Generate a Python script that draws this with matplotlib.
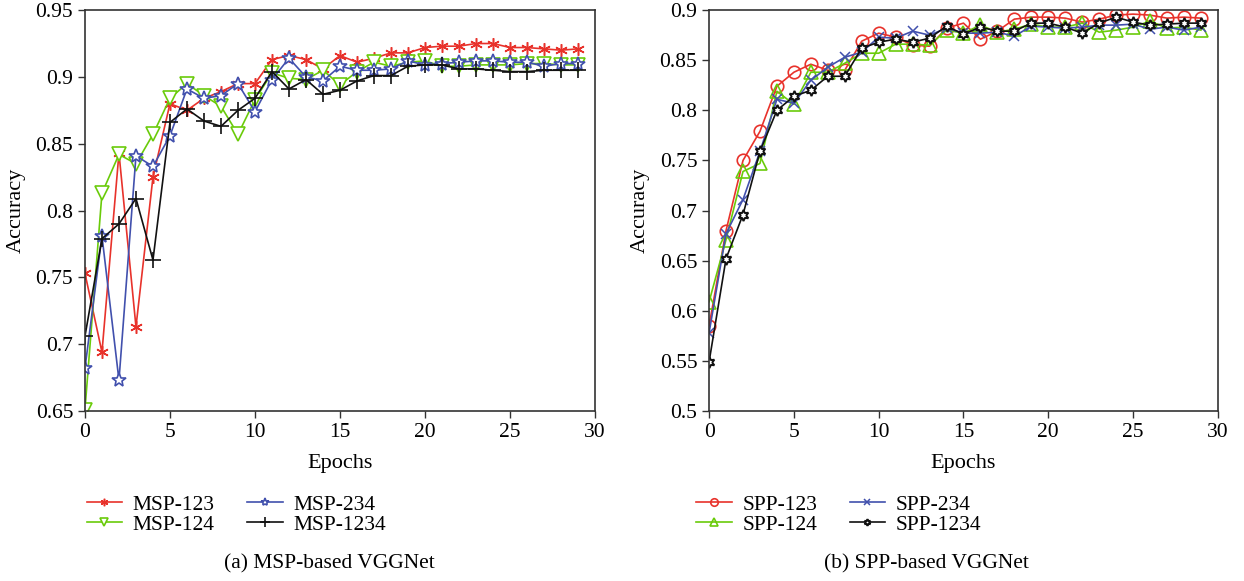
import matplotlib
matplotlib.use("Agg")
import matplotlib.pyplot as plt
import numpy as np

plt.rcParams['font.family'] = ['Liberation Serif', 'DejaVu Serif']

epochs = list(range(30))

# (a) MSP-based VGGNet
msp_123 = [0.753, 0.694, 0.843, 0.713, 0.825, 0.880, 0.875, 0.884, 0.889, 0.895,
           0.895, 0.913, 0.916, 0.913, 0.906, 0.916, 0.911, 0.914, 0.918, 0.918,
           0.922, 0.923, 0.923, 0.925, 0.925, 0.922, 0.922, 0.921, 0.920, 0.921]
msp_124 = [0.651, 0.813, 0.842, 0.835, 0.857, 0.884, 0.895, 0.886, 0.878, 0.857,
           0.883, 0.903, 0.899, 0.898, 0.905, 0.894, 0.904, 0.911, 0.908, 0.911,
           0.912, 0.908, 0.908, 0.909, 0.909, 0.909, 0.910, 0.910, 0.909, 0.909]
msp_234 = [0.682, 0.781, 0.673, 0.841, 0.833, 0.856, 0.891, 0.884, 0.886, 0.895,
           0.874, 0.898, 0.914, 0.900, 0.897, 0.908, 0.905, 0.905, 0.906, 0.912,
           0.909, 0.910, 0.911, 0.912, 0.912, 0.911, 0.911, 0.908, 0.910, 0.910]
msp_1234 = [0.706, 0.779, 0.790, 0.809, 0.763, 0.866, 0.876, 0.867, 0.863, 0.875,
            0.884, 0.904, 0.891, 0.898, 0.887, 0.890, 0.897, 0.901, 0.901, 0.908,
            0.909, 0.909, 0.906, 0.906, 0.905, 0.904, 0.904, 0.905, 0.905, 0.905]

# (b) SPP-based VGGNet
spp_123 = [0.585, 0.680, 0.750, 0.779, 0.824, 0.838, 0.846, 0.840, 0.840, 0.869,
           0.877, 0.873, 0.865, 0.864, 0.882, 0.887, 0.871, 0.879, 0.891, 0.893,
           0.893, 0.892, 0.888, 0.891, 0.895, 0.896, 0.895, 0.892, 0.893, 0.892]
spp_124 = [0.609, 0.671, 0.739, 0.747, 0.819, 0.806, 0.838, 0.838, 0.847, 0.857,
           0.857, 0.866, 0.866, 0.865, 0.880, 0.877, 0.885, 0.878, 0.881, 0.886,
           0.883, 0.883, 0.887, 0.878, 0.880, 0.883, 0.889, 0.882, 0.883, 0.880]
spp_234 = [0.578, 0.677, 0.711, 0.759, 0.811, 0.807, 0.830, 0.843, 0.853, 0.858,
           0.873, 0.872, 0.879, 0.875, 0.882, 0.877, 0.877, 0.878, 0.874, 0.884,
           0.883, 0.882, 0.883, 0.885, 0.885, 0.886, 0.881, 0.883, 0.880, 0.883]
spp_1234 = [0.549, 0.652, 0.696, 0.759, 0.800, 0.814, 0.820, 0.834, 0.834, 0.862,
            0.868, 0.871, 0.868, 0.872, 0.884, 0.876, 0.883, 0.879, 0.879, 0.887,
            0.887, 0.883, 0.877, 0.887, 0.893, 0.888, 0.885, 0.886, 0.887, 0.887]

RED = '#e8322b'
GREEN = '#6acb0a'
BLUE = '#4150ad'
BLACK = '#111111'

fig = plt.figure(figsize=(12.44, 5.81), dpi=100)
ax1 = fig.add_axes([0.0683, 0.2926, 0.41, 0.690])
ax2 = fig.add_axes([0.570, 0.2926, 0.409, 0.690])

lw = 1.2
ax1.plot(epochs, msp_123, color=RED, marker=(6, 2, 0), ms=9, mew=1.1, lw=lw, label='MSP-123')
ax1.plot(epochs, msp_124, color=GREEN, marker='v', ms=10, mfc='white', mew=1.2, lw=lw, label='MSP-124')
ax1.plot(epochs, msp_234, color=BLUE, marker='*', ms=10, mfc='white', mew=1.2, lw=lw, label='MSP-234')
ax1.plot(epochs, msp_1234, color=BLACK, marker='+', ms=11, mew=1.2, lw=lw, label='MSP-1234')

ax2.plot(epochs, spp_123, color=RED, marker='o', ms=9, mfc='none', mew=1.2, lw=lw, label='SPP-123')
ax2.plot(epochs, spp_124, color=GREEN, marker='^', ms=10, mfc='none', mew=1.2, lw=lw, label='SPP-124')
ax2.plot(epochs, spp_234, color=BLUE, marker='x', ms=7, mew=1.1, lw=lw, label='SPP-234')
ax2.plot(epochs, spp_1234, color=BLACK, marker=(6, 1, 0), ms=8, mfc='white', mew=1.4, lw=lw, label='SPP-1234')

ax1.set_ylim(0.65, 0.95)
ax1.set_yticks([0.65, 0.7, 0.75, 0.8, 0.85, 0.9, 0.95])
ax1.set_yticklabels(['0.65', '0.7', '0.75', '0.8', '0.85', '0.9', '0.95'])
ax2.set_ylim(0.5, 0.9)
ax2.set_yticks([0.5, 0.55, 0.6, 0.65, 0.7, 0.75, 0.8, 0.85, 0.9])
ax2.set_yticklabels(['0.5', '0.55', '0.6', '0.65', '0.7', '0.75', '0.8', '0.85', '0.9'])

for ax in (ax1, ax2):
    ax.set_xlim(0, 30)
    ax.set_xticks([0, 5, 10, 15, 20, 25, 30])
    ax.set_xlabel('Epochs', fontsize=16, labelpad=9)
    ax.set_ylabel('Accuracy', fontsize=16, labelpad=7)
    ax.tick_params(direction='out', length=5, width=1, labelsize=15.5, color='#333333')
    for s in ax.spines.values():
        s.set_linewidth(1.2)
        s.set_color('#333333')

leg_kw = dict(ncol=2, frameon=False, fontsize=15.5, handlelength=1.65, columnspacing=1.5,
              labelspacing=0.0, handletextpad=0.5, markerscale=0.6, loc='upper left',
              borderpad=0.4)
fig.legend(*ax1.get_legend_handles_labels(), bbox_to_anchor=(0.054, 0.182), **leg_kw)
fig.legend(*ax2.get_legend_handles_labels(), bbox_to_anchor=(0.544, 0.182), **leg_kw)

fig.text(0.265, 0.029, '(a) MSP-based VGGNet', ha='center', va='center', fontsize=15.5)
fig.text(0.745, 0.029, '(b) SPP-based VGGNet', ha='center', va='center', fontsize=15.5)

fig.savefig('out.png', dpi=100)
